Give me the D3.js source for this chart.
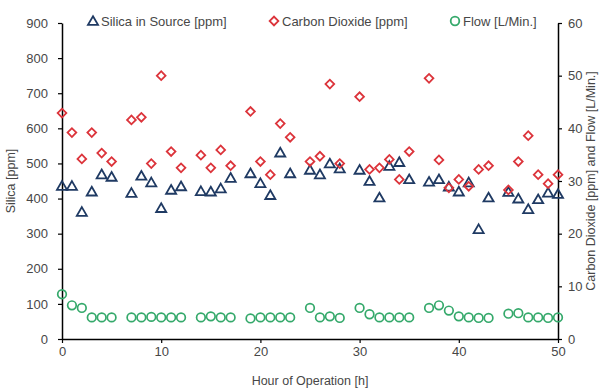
<!DOCTYPE html>
<html>
<head>
<meta charset="utf-8">
<style>
  body { margin: 0; background: #fff; }
  text { font-family: "Liberation Sans", Arial, sans-serif; }
</style>
</head>
<body>
<svg width="607" height="389"></svg>
<script src="https://cdn.jsdelivr.net/npm/d3@7"></script>
<script>

var hours = [0,1,2,3,4,5,7,8,9,10,11,12,14,15,16,17,19,20,21,22,23,25,26,27,28,
             30,31,32,33,34,35,37,38,39,40,41,42,43,45,46,47,48,49,50];

var silica = [433,433,359,417,466,459,413,462,443,370,422,432,
              418,417,426,456,
              469,441,407,528,469,
              479,466,497,483,
              479,447,400,490,501,452,
              445,452,431,417,443,310,400,
              416,397,367,395,414,410];

var co2 = [42.9,39.2,34.2,39.2,35.3,33.7,41.6,42.1,33.3,50.0,35.6,32.5,
           34.9,32.5,35.9,32.9,
           43.2,33.7,31.2,40.9,38.3,
           33.7,34.7,48.4,33.3,
           46.0,32.2,32.5,34.1,30.3,35.6,
           49.5,34.0,28.7,30.3,29.0,32.2,32.9,
           28.3,33.7,38.6,31.2,29.5,31.2];

var flow = [8.5,6.4,5.9,4.1,4.1,4.1,4.1,4.1,4.2,4.1,4.1,4.1,
            4.1,4.3,4.1,4.1,
            3.9,4.1,4.1,4.1,4.1,
            5.9,4.1,4.3,4.0,
            5.9,4.7,4.1,4.1,4.1,4.1,
            5.9,6.4,5.4,4.3,4.1,4.0,4.0,
            4.8,4.9,4.1,4.1,4.0,4.1];

var xTicks = [0,10,20,30,40,50],
    leftTicks = [0,100,200,300,400,500,600,700,800,900],
    rightTicks = [0,10,20,30,40,50,60];

var svg = d3.select("svg"),
    margin = {top: 23, right: 49, bottom: 50, left: 62},
    width = svg.attr("width") - margin.left - margin.right,
    height = svg.attr("height") - margin.top - margin.bottom;

var x = d3.scaleLinear().domain([0, 50]).range([0, width]),
    yL = d3.scaleLinear().domain([0, 900]).range([height, 0]),
    yR = d3.scaleLinear().domain([0, 60]).range([height, 0]);

var colSilica = "#1f3a63", colCo2 = "#dc343b", colFlow = "#35a96b", txt = "#474747";

var g = svg.append("g")
    .attr("transform", "translate(" + margin.left + "," + margin.top + ")");

function styleAxis(sel) {
  sel.select(".domain").attr("stroke", "#000").attr("stroke-width", 1.5);
  sel.selectAll(".tick line").attr("stroke", "#000").attr("stroke-width", 1.2);
  sel.selectAll(".tick text").attr("fill", txt).style("font-size", "13px")
     .style("font-family", "'Liberation Sans', Arial, sans-serif");
}

g.append("g")
    .attr("transform", "translate(0," + height + ")")
    .call(d3.axisBottom(x).tickValues(xTicks).tickSize(4).tickSizeOuter(0).tickPadding(4))
    .call(styleAxis);

g.append("g")
    .call(d3.axisLeft(yL).tickValues(leftTicks).tickSize(4).tickSizeOuter(0).tickPadding(10))
    .call(styleAxis);

g.append("g")
    .attr("transform", "translate(" + width + ",0)")
    .call(d3.axisRight(yR).tickValues(rightTicks).tickSize(4).tickSizeOuter(0).tickPadding(6))
    .call(styleAxis);

// axis titles
svg.append("text")
    .attr("x", margin.left + width / 2).attr("y", 385)
    .attr("text-anchor", "middle").attr("fill", txt).style("font-size", "12.5px")
    .text("Hour of Operation [h]");

svg.append("text")
    .attr("transform", "translate(15," + (margin.top + height / 2) + ") rotate(-90)")
    .attr("text-anchor", "middle").attr("fill", txt).style("font-size", "12.5px")
    .text("Silica [ppm]");

svg.append("text")
    .attr("transform", "translate(595," + (margin.top + height / 2) + ") rotate(-90)")
    .attr("text-anchor", "middle").attr("fill", txt).style("font-size", "12.5px")
    .text("Carbon Dioxide [ppm] and Flow [L/Min.]");

var tri = d3.symbol().type(d3.symbolTriangle).size(44),
    dia = d3.symbol().type(d3.symbolSquare).size(38);

// flow
g.selectAll(".flow")
    .data(hours)
  .enter().append("circle")
    .attr("cx", function(d) { return x(d); })
    .attr("cy", function(d, i) { return yR(flow[i]); })
    .attr("r", 4.3)
    .attr("fill", "none").attr("stroke", colFlow).attr("stroke-width", 1.7);

// silica
g.selectAll(".silica")
    .data(hours)
  .enter().append("path")
    .attr("d", tri)
    .attr("transform", function(d, i) { return "translate(" + x(d) + "," + yL(silica[i]) + ")"; })
    .attr("fill", "none").attr("stroke", colSilica).attr("stroke-width", 1.8);

// carbon dioxide
g.selectAll(".co2")
    .data(hours)
  .enter().append("path")
    .attr("d", dia)
    .attr("transform", function(d, i) { return "translate(" + x(d) + "," + yR(co2[i]) + ") rotate(45)"; })
    .attr("fill", "none").attr("stroke", colCo2).attr("stroke-width", 1.8);

// legend
var legend = [
  {label: "Silica in Source [ppm]", x: 93, type: "tri", color: colSilica},
  {label: "Carbon Dioxide [ppm]", x: 274, type: "dia", color: colCo2},
  {label: "Flow [L/Min.]", x: 455, type: "circ", color: colFlow}
];

var lg = svg.selectAll(".lg").data(legend).enter().append("g")
    .attr("transform", function(d) { return "translate(" + d.x + ",21)"; });

lg.each(function(d) {
  var s = d3.select(this);
  if (d.type === "circ") {
    s.append("circle").attr("r", 4.3);
  } else if (d.type === "tri") {
    s.append("path").attr("d", tri).attr("transform", "translate(0,1)");
  } else {
    s.append("path").attr("d", dia).attr("transform", "rotate(45)");
  }
  s.selectAll("circle, path").attr("fill", "none").attr("stroke", d.color).attr("stroke-width", 1.8);
});

lg.append("text")
    .attr("x", 8).attr("y", 4.5)
    .attr("fill", txt).style("font-size", "13px")
    .text(function(d) { return d.label; });

</script>
</body>
</html>
